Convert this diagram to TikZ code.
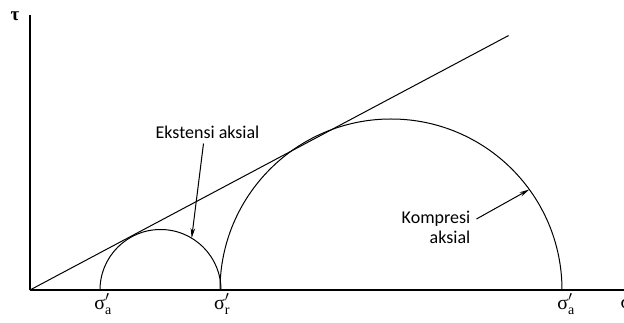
\documentclass[tikz,border=0pt]{standalone}
\usepackage{amsmath,amssymb}
\usepackage{fontspec}
\newfontfamily\lblfont{Carlito}
\newfontfamily\grfont{Liberation Serif}
\usetikzlibrary{arrows.meta,positioning,calc}

\newcommand{\sgm}[1]{$\text{\grfont σ}'_{\text{\grfont #1}}$}

\begin{document}
\begin{tikzpicture}[
    x=1pt, y=1pt,
    axis/.style={line width=1.4pt},
    curve/.style={line width=1pt},
    lbl/.style={font=\lblfont\fontsize{18}{20}\selectfont, inner sep=0pt},
    sig/.style={font=\fontsize{20}{22}\selectfont, inner sep=0pt},
    arr/.style={-{Stealth[length=10pt,width=4.5pt]}, line width=1pt}
]
\useasboundingbox (0,0) rectangle (624,323);

\coordinate (O) at (30,33);
\coordinate (c1) at (160.5,33);
\coordinate (c2) at (391,33);

% sumbu
\draw[axis] (O) -- (624,33);
\draw[axis] (O) -- (30,308);
\node[font=\grfont\bfseries\fontsize{19}{21}\selectfont, inner sep=0pt] (tau) at (15,307) {τ};
\node[sig] (sigx) at (626,20) {\grfont σ};

% garis selubung dan lingkaran Mohr
\draw[curve] (O) -- ++(28:542);
\draw[curve] (100,33) arc[start angle=180, end angle=0, radius=60.5];
\draw[curve] (220,33) arc[start angle=180, end angle=0, radius=171];

\node[sig] (sa1) at (103,19) {\sgm{a}};
\node[sig] (sr) at (222,19) {\sgm{r}};
\node[sig] (sa2) at (566,19) {\sgm{a}};

% label
\node[lbl] (ekst) at (207.5,191) {Ekstensi aksial};
\node[lbl, align=right] (komp) at (436,96) {Kompresi\\aksial};

\coordinate (tipE) at ($(c1)+(59:60.5)$);
\coordinate (tipK) at ($(c2)+(36:171)$);
\draw[arr] ([xshift=-4pt,yshift=-5pt]ekst.south) -- (tipE);
\draw[arr] ([xshift=6pt,yshift=8pt]komp.east) -- (tipK);
\end{tikzpicture}
\end{document}
